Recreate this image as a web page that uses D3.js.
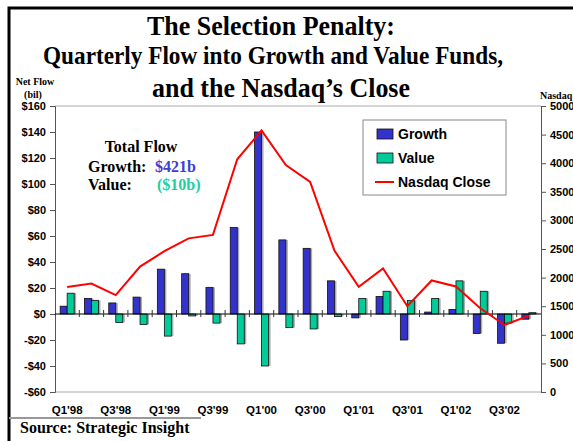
<!DOCTYPE html>
<html>
<head>
<meta charset="utf-8">
<script src="https://cdn.jsdelivr.net/npm/d3@7"></script>
<style>
  body { margin: 0; background: #fff; }
  .tick text { font-family: Arial, "Liberation Sans", sans-serif; font-weight: bold; font-size: 11px; fill: #000; }
  .serif { font-family: "Times New Roman", "Liberation Serif", serif; font-weight: bold; }
</style>
</head>
<body>
<div class="chart"></div>
<script>
// Data
var quarters = ["Q1'98","Q2'98","Q3'98","Q4'98","Q1'99","Q2'99","Q3'99","Q4'99",
  "Q1'00","Q2'00","Q3'00","Q4'00","Q1'01","Q2'01","Q3'01","Q4'01",
  "Q1'02","Q2'02","Q3'02","Q4'02"];
var growthFlow = [6, 12, 8.5, 13, 34.5, 31, 20.5, 66.5, 140, 57, 50.5, 25.5,
  -3, 13.5, -20, 1.5, 3.5, -15, -22.5, -4];
var valueFlow = [16, 10.5, -6.5, -8, -17, -1.5, -7, -23, -40, -10.5, -11.5, -2,
  12, 17.5, 10.5, 12, 25.5, 17.5, -7, 1];
var nasdaqClose = [1835, 1895, 1694, 2193, 2461, 2686, 2746, 4069, 4573, 3966,
  3673, 2471, 1840, 2161, 1499, 1950, 1845, 1463, 1172, 1336];
var flowTicks = [-60, -40, -20, 0, 20, 40, 60, 80, 100, 120, 140, 160];
var nasdaqTicks = [0, 500, 1000, 1500, 2000, 2500, 3000, 3500, 4000, 4500, 5000];
var xLabels = ["Q1'98","Q3'98","Q1'99","Q3'99","Q1'00","Q3'00","Q1'01","Q3'01","Q1'02","Q3'02"];

var svgWidth = 573;
var svgHeight = 441;
var margin = { top: 106, right: 32, bottom: 49, left: 55 };
var width = svgWidth - margin.left - margin.right;
var height = svgHeight - margin.top - margin.bottom;

var growthColor = "#3333cc";
var valueColor = "#00cc99";

var svg = d3.select(".chart")
  .append("svg")
  .attr("width", svgWidth)
  .attr("height", svgHeight);

// outer frame (left + top)
svg.append("path")
  .attr("d", "M9,441 V8 H573")
  .attr("fill", "none")
  .attr("stroke", "#000")
  .attr("stroke-width", 3);

// titles (squeezed to the widths seen in the picture)
var titles = [
  { t: "The Selection Penalty:", x: 271, y: 35, size: 27, len: 248 },
  { t: "Quarterly Flow into Growth and Value Funds,", x: 273, y: 64, size: 25.5, len: 460 },
  { t: "and the Nasdaq\u2019s Close", x: 281, y: 97, size: 26.5, len: 258 }
];
svg.selectAll(".title")
  .data(titles)
  .enter()
  .append("text")
  .attr("class", "title serif")
  .attr("x", d => d.x)
  .attr("y", d => d.y)
  .attr("text-anchor", "middle")
  .attr("font-size", d => d.size + "px")
  .attr("textLength", d => d.len)
  .attr("lengthAdjust", "spacingAndGlyphs")
  .text(d => d.t);

svg.append("text").attr("class", "serif")
  .attr("x", 35).attr("y", 85).attr("text-anchor", "middle")
  .attr("font-size", "10px").text("Net Flow");
svg.append("text").attr("class", "serif")
  .attr("x", 33).attr("y", 98).attr("text-anchor", "middle")
  .attr("font-size", "10px").text("(bil)");
svg.append("text").attr("class", "serif")
  .attr("x", 540).attr("y", 99)
  .attr("font-size", "10px").text("Nasdaq");

var chartGroup = svg.append("g")
  .attr("transform", `translate(${margin.left}, ${margin.top})`);

// scales
var xBandScale = d3.scaleBand()
  .domain(quarters)
  .range([0, width])
  .padding(0);

var yFlowScale = d3.scaleLinear()
  .domain([-60, 160])
  .range([height, 0]);

var yNasdaqScale = d3.scaleLinear()
  .domain([0, 5000])
  .range([height, 0]);

var barWidth = 7;

// plot frame top and bottom
chartGroup.append("line")
  .attr("x1", 0).attr("x2", width).attr("y1", 0).attr("y2", 0)
  .attr("stroke", "#aaa");
chartGroup.append("line")
  .attr("x1", 0).attr("x2", width).attr("y1", height).attr("y2", height)
  .attr("stroke", "#aaa");

// axes
var leftAxis = d3.axisLeft(yFlowScale)
  .tickValues(flowTicks)
  .tickSize(5)
  .tickPadding(4)
  .tickFormat(d => (d < 0 ? "-$" : "$") + Math.abs(d));
var rightAxis = d3.axisRight(yNasdaqScale)
  .tickValues(nasdaqTicks)
  .tickSize(5)
  .tickPadding(4)
  .tickFormat(d3.format("d"));

var leftG = chartGroup.append("g").call(leftAxis);
var rightG = chartGroup.append("g")
  .attr("transform", `translate(${width}, 0)`)
  .call(rightAxis);
[leftG, rightG].forEach(function(g) {
  g.select(".domain").attr("stroke", "#555");
  g.selectAll(".tick line").attr("stroke", "#555");
});

// bar shadows + bars
function drawBars(values, cls, color, offset) {
  var g = chartGroup.append("g").attr("class", cls);
  g.selectAll("rect.shadow")
    .data(values)
    .enter()
    .append("rect")
    .attr("class", "shadow")
    .attr("x", (d, i) => xBandScale(quarters[i]) + xBandScale.bandwidth() / 2 + offset + 2)
    .attr("y", d => yFlowScale(Math.max(d, 0)))
    .attr("width", barWidth)
    .attr("height", d => Math.abs(yFlowScale(d) - yFlowScale(0)))
    .attr("fill", "#aaa");
  g.selectAll("rect.bar")
    .data(values)
    .enter()
    .append("rect")
    .attr("class", "bar")
    .attr("x", (d, i) => xBandScale(quarters[i]) + xBandScale.bandwidth() / 2 + offset)
    .attr("y", d => yFlowScale(Math.max(d, 0)))
    .attr("width", barWidth)
    .attr("height", d => Math.abs(yFlowScale(d) - yFlowScale(0)))
    .attr("fill", color)
    .attr("stroke", "#111")
    .attr("stroke-width", 0.8);
}
drawBars(growthFlow, "growth", growthColor, -barWidth);
drawBars(valueFlow, "value", valueColor, 0);

// zero line with category ticks
chartGroup.append("line")
  .attr("x1", 0).attr("x2", width)
  .attr("y1", yFlowScale(0)).attr("y2", yFlowScale(0))
  .attr("stroke", "#000");
chartGroup.selectAll(".ztick")
  .data(quarters.slice(1))
  .enter()
  .append("line")
  .attr("class", "ztick")
  .attr("x1", d => xBandScale(d)).attr("x2", d => xBandScale(d))
  .attr("y1", yFlowScale(0) - 4).attr("y2", yFlowScale(0) + 3)
  .attr("stroke", "#333");

// Nasdaq line
var nasdaqLine = d3.line()
  .x((d, i) => xBandScale(quarters[i]) + xBandScale.bandwidth() / 2)
  .y(d => yNasdaqScale(d));
chartGroup.append("path")
  .datum(nasdaqClose)
  .attr("d", nasdaqLine)
  .attr("fill", "none")
  .attr("stroke", "#ff0000")
  .attr("stroke-width", 2);

// x labels
chartGroup.selectAll(".xlabel")
  .data(xLabels)
  .enter()
  .append("text")
  .attr("class", "xlabel")
  .attr("x", d => xBandScale(d) + xBandScale.bandwidth() / 2)
  .attr("y", height + 22)
  .attr("text-anchor", "middle")
  .attr("font-family", "Arial, 'Liberation Sans', sans-serif")
  .attr("font-weight", "bold")
  .attr("font-size", "11.5px")
  .text(d => d);

// legend
var legend = svg.append("g").attr("transform", "translate(363, 120)");
legend.append("rect")
  .attr("width", 143).attr("height", 75)
  .attr("fill", "#fff").attr("stroke", "#888");
var legendItems = [
  { name: "Growth", color: growthColor, type: "bar" },
  { name: "Value", color: valueColor, type: "bar" },
  { name: "Nasdaq Close", color: "#ff0000", type: "line" }
];
legendItems.forEach(function(item, i) {
  var y = 14 + i * 24;
  if (item.type == "bar") {
    legend.append("rect")
      .attr("x", 14).attr("y", y - 5).attr("width", 16).attr("height", 10)
      .attr("fill", item.color).attr("stroke", "#111").attr("stroke-width", 0.8);
  } else {
    legend.append("line")
      .attr("x1", 12).attr("x2", 31).attr("y1", y).attr("y2", y)
      .attr("stroke", item.color).attr("stroke-width", 2);
  }
  legend.append("text")
    .attr("x", 35).attr("y", y + 5)
    .attr("font-family", "Arial, 'Liberation Sans', sans-serif")
    .attr("font-weight", "bold")
    .attr("font-size", "14px")
    .text(item.name);
});

// total flow annotation
svg.append("text").attr("class", "serif")
  .attr("x", 141).attr("y", 152).attr("text-anchor", "middle")
  .attr("font-size", "16px").text("Total Flow");
svg.append("text").attr("class", "serif")
  .attr("x", 88).attr("y", 172).attr("font-size", "16px").text("Growth:");
svg.append("text").attr("class", "serif")
  .attr("x", 155).attr("y", 172).attr("font-size", "16px")
  .attr("fill", "#4040d0").text("$421b");
svg.append("text").attr("class", "serif")
  .attr("x", 88).attr("y", 190).attr("font-size", "16px").text("Value:");
svg.append("text").attr("class", "serif")
  .attr("x", 157).attr("y", 190).attr("font-size", "16px")
  .attr("fill", "#20d0a0").text("($10b)");

// source
svg.append("line")
  .attr("x1", 9).attr("x2", 201).attr("y1", 418).attr("y2", 418)
  .attr("stroke", "#999").attr("stroke-width", 2);
svg.append("text").attr("class", "serif")
  .attr("x", 20).attr("y", 433).attr("font-size", "16px")
  .text("Source: Strategic Insight");
</script>
</body>
</html>
